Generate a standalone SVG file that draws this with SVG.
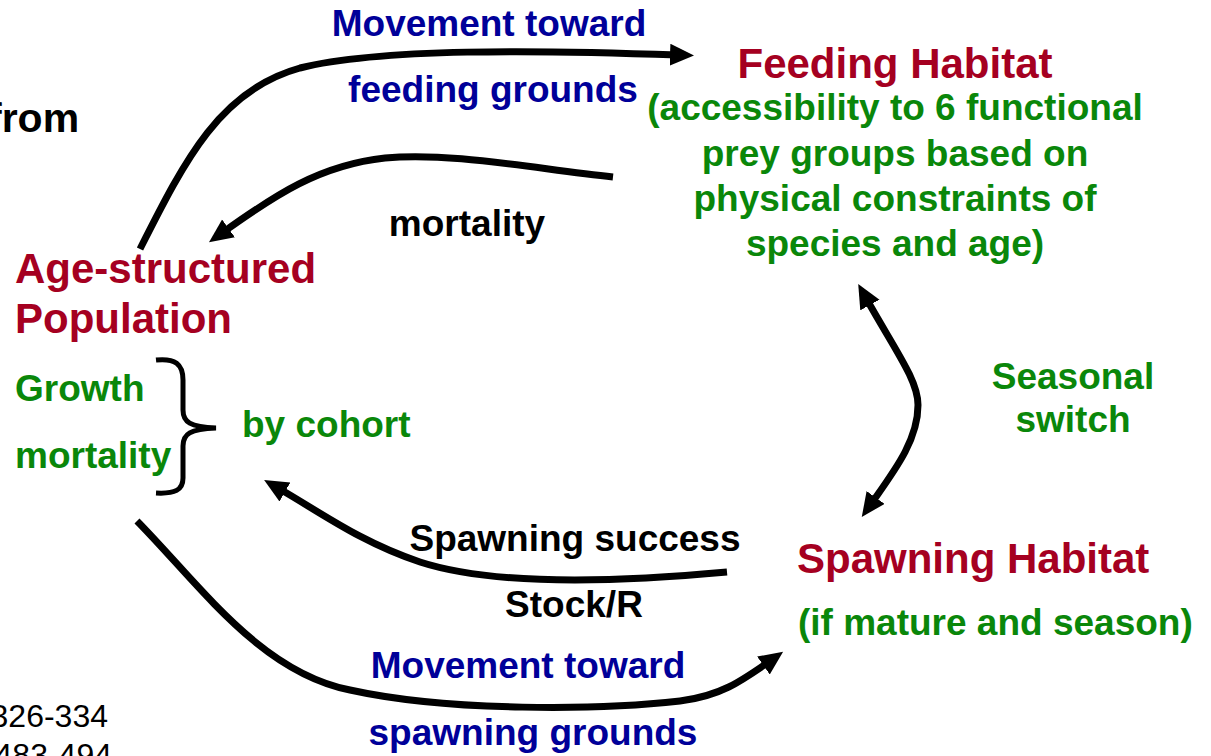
<svg xmlns="http://www.w3.org/2000/svg" width="1211" height="756" viewBox="0 0 1211 756">
<style>
text{font-family:"Liberation Sans",Arial,sans-serif;font-weight:bold;font-size:37px}
.red{fill:#A50021;font-size:42px}
.grn{fill:#0A870A}
.blu{fill:#000099}
.blk{fill:#000}
.reg{font-weight:normal;font-size:32px;fill:#000}
.mid{text-anchor:middle}
.conn{fill:none;stroke:#000;stroke-width:7;stroke-linecap:butt}
</style>
<defs>
<marker id="ah" markerUnits="userSpaceOnUse" markerWidth="26" markerHeight="24" refX="8" refY="11" orient="auto-start-reverse">
<path d="M0,0 L24,11 L0,22 z" fill="#000"/>
</marker>
</defs>
<rect width="1211" height="756" fill="#fff"/>
<g id="connectors">
<path class="conn" d="M140,249 C185,160 220,90 300,68 C380,48 540,50 678,55" marker-end="url(#ah)"/>
<path class="conn" d="M613,177 C530,168 450,152 385,158 C320,165 275,195 222,233" marker-end="url(#ah)"/>
<path class="conn" d="M727,572 C640,580 500,588 420,562 C360,542 320,512 278,488" marker-end="url(#ah)"/>
<path class="conn" d="M137,521 C200,585 260,672 350,690 C450,712 600,710 680,701 C720,696 740,682 770,661" marker-end="url(#ah)"/>
<path class="conn" d="M866,298 C895,350 918,380 918,405 C918,440 895,470 871,504" marker-start="url(#ah)" marker-end="url(#ah)"/>
</g>
<g id="feeding">
<text class="red mid" x="895" y="78">Feeding Habitat</text>
<text class="grn mid" x="895" y="120">(accessibility to 6 functional</text>
<text class="grn mid" x="895" y="166">prey groups based on</text>
<text class="grn mid" x="895" y="211">physical constraints of</text>
<text class="grn mid" x="895" y="256">species and age)</text>
</g>
<g id="population">
<text class="red" x="15" y="283">Age-structured</text>
<text class="red" x="15" y="333">Population</text>
<text class="grn" x="15" y="401">Growth</text>
<text class="grn" x="15" y="468">mortality</text>
<path d="M156,360 C175,358 183,364 183,380 L183,410 C183,422 190,427 216,428 C190,429 183,434 183,446 L183,478 C183,490 175,494 156,493" fill="none" stroke="#000" stroke-width="5"/>
<text class="grn" x="242" y="437">by cohort</text>
</g>
<g id="spawning">
<text class="red" x="797" y="573">Spawning Habitat</text>
<text class="grn" x="798" y="635">(if mature and season)</text>
</g>
<g id="labels">
<text class="blu mid" x="489" y="36">Movement toward</text>
<text class="blu mid" x="493" y="102">feeding grounds</text>
<text class="blk mid" x="467" y="236">mortality</text>
<text class="grn mid" x="1073" y="389">Seasonal</text>
<text class="grn mid" x="1073" y="432">switch</text>
<text class="blk mid" x="575" y="551">Spawning success</text>
<text class="blk mid" x="574" y="617">Stock/R</text>
<text class="blu mid" x="528" y="678">Movement toward</text>
<text class="blu mid" x="533" y="745">spawning grounds</text>
<text class="blk" x="-12" y="132" style="font-size:41px">from</text>
<text class="reg" x="108" y="727" style="text-anchor:end">326-334</text>
<text class="reg" x="112" y="766" style="text-anchor:end">483-494</text>
</g>
</svg>
